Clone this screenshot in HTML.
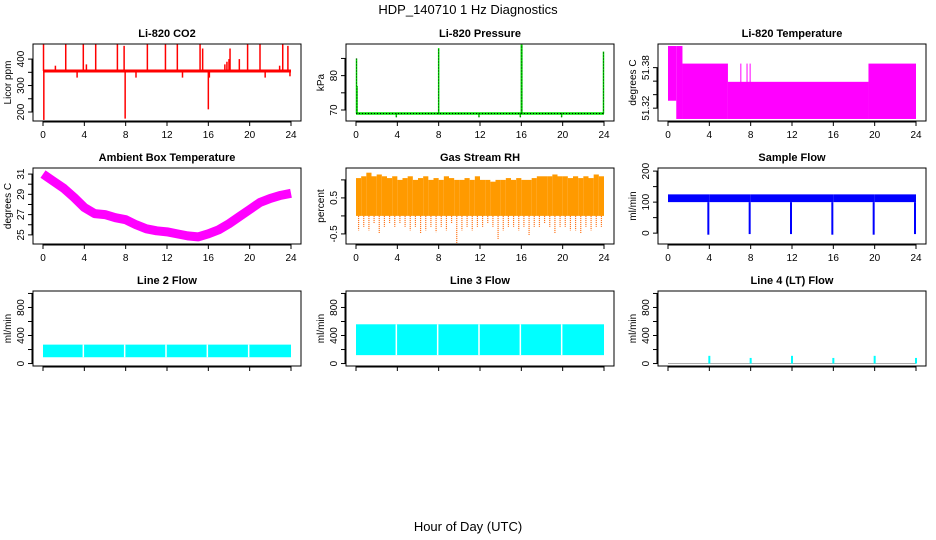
<!DOCTYPE html>
<html><head><meta charset="utf-8"><style>
html,body{margin:0;padding:0;background:#fff}
svg{display:block}
text{font-family:"Liberation Sans",sans-serif;fill:#000}
</style></head><body>
<svg id="c" width="936" height="540" xmlns="http://www.w3.org/2000/svg">
<text x="468" y="14" text-anchor="middle" font-size="13">HDP_140710  1 Hz Diagnostics</text>
<text x="468" y="531" text-anchor="middle" font-size="13">Hour of Day (UTC)</text>
</svg>
<script>
// ---- data ----
const hourTicks=[0,4,8,12,16,20,24];
const co2Base=355;
const co2SpikeHours=[0.05,2.2,3.9,5.1,7.2,7.85,10.1,11.85,13.0,15.2,15.45,17.6,17.8,18.0,18.1,19.8,21.0,23.2,23.7,0.08,7.95,16.0,16.1,1.2,3.3,4.2,9.0,13.5,19.0,21.5,22.9,23.9];
const co2SpikeValues=[455,455,455,455,455,450,455,455,455,455,440,380,390,400,440,455,455,455,450,170,175,210,330,375,330,380,330,330,400,330,375,335];
const presBase=69;
const presSpikeHours=[0.05,0.1,8.0,16.0,16.05,23.95,3.9,11.9,15.9,19.9];
const presSpikeValues=[85,77,88,89,89,87,67.9,67.9,67.9,67.9];
const tempStart=[0,0.8,1.4,5.8,7.0,7.6,7.9,19.4];
const tempEnd=[0.8,1.4,5.8,19.4,7.05,7.65,7.95,24];
const tempLow=[51.331,51.304,51.304,51.304,51.304,51.304,51.304,51.304];
const tempHigh=[51.412,51.412,51.386,51.359,51.386,51.386,51.386,51.386];
const ambHours=[0,1,2,3,4,5,6,7,8,9,10,11,12,13,14,15,16,17,18,19,20,21,22,23,24];
const ambTemp=[31,30.3,29.6,28.7,27.7,27.1,27.0,26.7,26.5,26.0,25.6,25.4,25.3,25.1,24.9,24.8,25.1,25.5,26.1,26.8,27.5,28.2,28.6,28.9,29.1];
const rhTop=[1.05,1.1,1.2,1.1,1.15,1.1,1.05,1.1,1.0,1.05,1.1,1.0,1.05,1.1,1.0,1.05,1.0,1.1,1.05,1.0,1.0,1.05,1.0,1.1,1.0,1.0,0.95,1.0,1.0,1.05,1.0,1.05,1.0,1.0,1.05,1.1,1.1,1.1,1.15,1.1,1.1,1.05,1.1,1.05,1.1,1.05,1.15,1.1];
const rhBottom=[-0.4,-0.3,-0.4,-0.2,-0.5,-0.3,-0.2,-0.3,-0.2,-0.3,-0.4,-0.3,-0.5,-0.4,-0.3,-0.45,-0.3,-0.4,-0.2,-0.75,-0.4,-0.3,-0.4,-0.3,-0.3,-0.2,-0.3,-0.65,-0.4,-0.3,-0.3,-0.4,-0.3,-0.55,-0.3,-0.3,-0.2,-0.3,-0.5,-0.3,-0.3,-0.4,-0.4,-0.5,-0.3,-0.4,-0.3,-0.3];
const flowLow=[100,100,100,100,100,100];
const flowHigh=[125,125,125,125,125,125];
const flowDipHours=[4,8,12,16,20,24];
const flowDipValues=[-5,-3,-3,-5,-5,-3];
const line2Low=90, line2High=270;
const line3Low=120, line3High=560;
const gapHours=[4,8,12,16,20];
const line4SpikeHours=[4,8,12,16,20,24];
const line4SpikeValues=[110,80,110,80,110,80];

const svg=document.getElementById('c');
const NS='http://www.w3.org/2000/svg';
function el(tag,attrs,parent){const e=document.createElementNS(NS,tag);for(const k in attrs)e.setAttribute(k,attrs[k]);(parent||svg).appendChild(e);return e;}

const cols=[33,346,658], W=268;
const rows=[[44,121],[168,244],[291,366]];
function panel(ci,ri,title,ylab,ymin,ymax,yticks,ylabels,name){
  const x0=cols[ci],x1=x0+W,[y0,y1]=rows[ri];
  const g=el('g',{});
  
  
  const sx=h=>x0+10+h*(W-20)/24;
  const sy=v=>y1-(v-ymin)/(ymax-ymin)*(y1-y0);
  const plot=el('g',{},g);
  
  
  const box=el('rect',{x:x0,y:y0,width:W,height:y1-y0,fill:'none',stroke:'#000','stroke-width':1},g);
  
  
  const t=el('text',{x:x0+W/2,y:y0-7,'text-anchor':'middle','font-size':11,'font-weight':'bold'},g);
  t.textContent=title;
  
  
  const xa=el('g',{},g);
  
  
  el('line',{x1:sx(0),x2:sx(24),y1:y1+1,y2:y1+1,stroke:'#000'},xa);
  hourTicks.forEach(h=>{
    el('line',{x1:sx(h),x2:sx(h),y1:y1,y2:y1+5,stroke:'#000'},xa);
    if(ri<2){const tx=el('text',{x:sx(h),y:y1+17,'text-anchor':'middle','font-size':10},xa);tx.textContent=h;}
  });
  const ya=el('g',{},g);
  
  
  el('line',{x1:x0-1,x2:x0-1,y1:sy(yticks[0]),y2:sy(yticks[yticks.length-1]),stroke:'#000'},ya);
  yticks.forEach((v,i)=>{
    el('line',{x1:x0-5,x2:x0,y1:sy(v),y2:sy(v),stroke:'#000'},ya);
    if(ylabels[i]!==''){const tx=el('text',{x:x0-9,y:sy(v),'text-anchor':'middle','font-size':10,transform:`rotate(-90 ${x0-9} ${sy(v)})`},ya);tx.textContent=ylabels[i];}
  });
  const yl=el('text',{x:x0-22,y:(y0+y1)/2,'text-anchor':'middle','font-size':10,transform:`rotate(-90 ${x0-22} ${(y0+y1)/2})`},g);
  yl.textContent=ylab;
  
  
  return {sx,sy,plot};
}

// CO2
let p=panel(0,0,'Li-820 CO2','Licor ppm',166,457,[200,250,300,350,400],['200','','300','','400'],'co2');
el('line',{x1:p.sx(0),x2:p.sx(24),y1:p.sy(co2Base),y2:p.sy(co2Base),stroke:'#f00','stroke-width':3},p.plot);
co2SpikeHours.forEach((h,i)=>{const s=el('line',{x1:p.sx(h),x2:p.sx(h),y1:p.sy(co2Base),y2:p.sy(co2SpikeValues[i]),stroke:'#f00','stroke-width':1.5},p.plot);

});

// Pressure
p=panel(1,0,'Li-820 Pressure','kPa',66.8,89.2,[70,75,80,85],['70','','80',''],'pressure');
el('line',{x1:p.sx(0),x2:p.sx(24),y1:p.sy(presBase),y2:p.sy(presBase),stroke:'#0d0','stroke-width':2.5},p.plot);
el('line',{x1:p.sx(0),x2:p.sx(24),y1:p.sy(presBase),y2:p.sy(presBase),stroke:'#000','stroke-width':1,'stroke-dasharray':'1 2'},p.plot);
presSpikeHours.forEach((h,i)=>{const s=el('line',{x1:p.sx(h),x2:p.sx(h),y1:p.sy(presBase),y2:p.sy(presSpikeValues[i]),stroke:'#0d0','stroke-width':1.5},p.plot);


el('line',{x1:p.sx(h),x2:p.sx(h),y1:p.sy(presBase),y2:p.sy(presSpikeValues[i]),stroke:'#000','stroke-width':0.8,'stroke-dasharray':'1 2'},p.plot);});

// Li-820 temperature
p=panel(2,0,'Li-820 Temperature','degrees C',51.301,51.415,[51.32,51.34,51.36,51.38],['51.32','','','51.38'],'li820-temp');
tempStart.forEach((s,i)=>{const r=el('rect',{x:p.sx(s),y:p.sy(tempHigh[i]),width:Math.max(1,p.sx(tempEnd[i])-p.sx(s)),height:p.sy(tempLow[i])-p.sy(tempHigh[i]),fill:'#f0f'},p.plot);

});

// Ambient
p=panel(0,1,'Ambient Box Temperature','degrees C',24.1,31.6,[25,26,27,28,29,30,31],['25','','27','','29','','31'],'ambient');
const amb=el('polyline',{points:ambHours.map((h,i)=>p.sx(h)+','+p.sy(ambTemp[i])).join(' '),fill:'none',stroke:'#f0f','stroke-width':9,'stroke-linejoin':'round'},p.plot);



// RH
p=panel(1,1,'Gas Stream RH','percent',-0.78,1.33,[-0.5,0,0.5,1],['-0.5','','0.5',''],'rh');
const nb=rhTop.length;
rhTop.forEach((v,i)=>{const h0=i*24/nb,h1=(i+1)*24/nb;
 const r=el('rect',{x:p.sx(h0),y:p.sy(v),width:p.sx(h1)-p.sx(h0),height:p.sy(0)-p.sy(v),fill:'#ff9a00'},p.plot);
 
 
 const l=el('line',{x1:p.sx(h0+0.25),x2:p.sx(h0+0.25),y1:p.sy(0),y2:p.sy(rhBottom[i]),stroke:'#f60','stroke-width':1.2,'stroke-dasharray':'1 1'},p.plot);
 
 });

// Sample flow
p=panel(2,1,'Sample Flow','ml/min',-35,210,[0,50,100,150,200],['0','','100','','200'],'sample-flow');
flowDipHours.forEach((h,i)=>{const s=i===0?0:flowDipHours[i-1];
 const r=el('rect',{x:p.sx(s),y:p.sy(flowHigh[i]),width:p.sx(h)-p.sx(s),height:p.sy(flowLow[i])-p.sy(flowHigh[i]),fill:'#00f'},p.plot);
 
 
 const l=el('line',{x1:p.sx(h)-1,x2:p.sx(h)-1,y1:p.sy(flowLow[i]),y2:p.sy(flowDipValues[i]),stroke:'#00f','stroke-width':2},p.plot);
 
 });

// Line 2 / Line 3
function bandPanel(ci,title,lo,hi,name){
 const q=panel(ci,2,title,'ml/min',-35,1035,[0,200,400,600,800,1000],['0','','400','','800',''],name);
 const r=el('rect',{x:q.sx(0),y:q.sy(hi),width:q.sx(24)-q.sx(0),height:q.sy(lo)-q.sy(hi),fill:'#0ff'},q.plot);
 
 
 gapHours.forEach(h=>el('line',{x1:q.sx(h)-1,x2:q.sx(h)-1,y1:q.sy(hi),y2:q.sy(lo),stroke:'#fff','stroke-width':1.5},q.plot));
}
bandPanel(0,'Line 2 Flow',line2Low,line2High,'line2');
bandPanel(1,'Line 3 Flow',line3Low,line3High,'line3');

// Line 4
p=panel(2,2,'Line 4 (LT) Flow','ml/min',-35,1035,[0,200,400,600,800,1000],['0','','400','','800',''],'line4');
el('line',{x1:p.sx(0),x2:p.sx(24),y1:p.sy(0),y2:p.sy(0),stroke:'#aaa','stroke-width':1},p.plot);
line4SpikeHours.forEach((h,i)=>{const l=el('line',{x1:p.sx(h),x2:p.sx(h),y1:p.sy(0),y2:p.sy(line4SpikeValues[i]),stroke:'#0ff','stroke-width':2},p.plot);
 
 });
</script>
</body></html>
